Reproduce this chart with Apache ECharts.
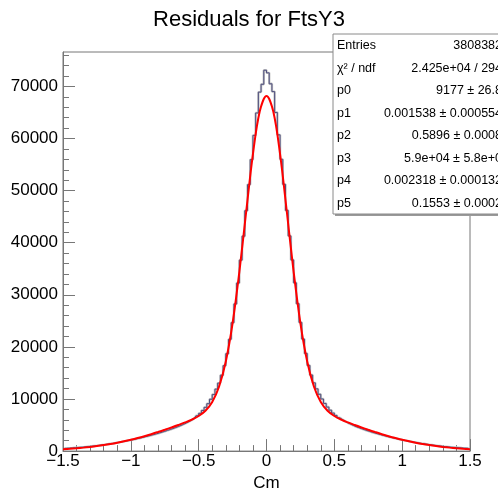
<!DOCTYPE html>
<html><head><meta charset="utf-8">
<script src="https://cdn.jsdelivr.net/npm/echarts@6/dist/echarts.min.js"></script>
<style>html,body{margin:0;padding:0;background:#fff}#c{width:498px;height:497px}</style>
</head><body><div id="c"></div>
<script>
const chartTitle = 'Residuals for FtsY3';
const xAxisName = 'Cm';
const xTickValues = [-1.5, -1, -0.5, 0, 0.5, 1, 1.5];
const yMajorTicks = [0, 10000, 20000, 30000, 40000, 50000, 60000, 70000];
const yMinorTicks = [2000,4000,6000,8000,12000,14000,16000,18000,22000,24000,26000,28000,32000,34000,36000,38000,42000,44000,46000,48000,52000,54000,56000,58000,62000,64000,66000,68000,72000,74000,76000];
const yTop = 76600;

// histogram: 150 bins of width 0.02 from -1.5 to 1.5
const histStart = -1.5, histBinWidth = 0.02;
const histLeft = [520,545,575,610,650,690,730,770,820,870,920,980,1040,1110,1180,1250,1330,1410,1490,1580,1670,1760,1860,1960,2060,2170,2280,2400,2520,2640,2770,2900,3040,3180,3320,3470,3630,3790,3960,4140,4320,4510,4710,4920,5150,5400,5680,5990,6340,6780,7250,7800,8400,9100,9950,10850,11900,13050,14550,16400,18700,21450,24650,28250,32250,36650,41250,46150,51150,55950,60600,64900,68900,70400,73100];
const histRight = [72600,70500,69000,65000,60700,56000,51200,46200,41300,36700,32300,28300,24700,21500,18750,16450,14600,13100,11950,10900,10000,9150,8450,7850,7300,6850,6400,6050,5720,5430,5170,4930,4700,4500,4310,4130,3950,3780,3620,3460,3310,3170,3030,2890,2760,2630,2510,2390,2270,2160,2050,1950,1850,1750,1660,1570,1480,1400,1320,1240,1170,1100,1030,970,910,860,810,760,720,680,640,600,570,540,510];

// fit curve read at steps of 0.05 from -1.5 to 1.5
const fitStart = -1.5, fitStep = 0.05;
const fitValues = [361,446,548,667,808,970,1157,1369,1610,1879,2178,2506,2862,3246,3655,4087,4538,5007,5502,6052,6736,7745,9429,12350,17196,24537,34412,45889,57000,65164,68177,65164,57000,45889,34412,24537,17196,12350,9429,7745,6736,6052,5502,5007,4538,4087,3655,3246,2862,2506,2178,1879,1610,1369,1157,970,808,667,548,446,361];

const statLabels = ['Entries', 'χ² / ndf', 'p0', 'p1', 'p2', 'p3', 'p4', 'p5'];
const statValues = ['3808382', '2.425e+04 / 294', '9177 ± 26.8', '0.001538 ± 0.000554', '0.5896 ± 0.0008', '5.9e+04 ± 5.8e+0', '0.002318 ± 0.000132', '0.1553 ± 0.0002'];

const histCounts = histLeft.concat(histRight);
const histData = histCounts.map((v, i) => [histStart + histBinWidth * (i + 0.5), v]);
const fitData = fitValues.map((v, i) => [fitStart + fitStep * i, v]);

const FONT = '"Liberation Sans", Arial, Helvetica, sans-serif';
const AX = '#777';

const graphic = [
  {type:'rect', shape:{x:335, y:36, width:180, height:180}, style:{fill:'#9a9a9a'}, z:100},
  {type:'rect', shape:{x:333, y:34, width:180, height:180}, style:{fill:'#fff', stroke:'#8a8a8a', lineWidth:1}, z:101}
];
statLabels.forEach((t, i) => {
  const y = 46 + i * 22.5;
  graphic.push({type:'text', z:102, style:{text:t, x:337, y:y, fill:'#000', font:'12.5px ' + FONT, textAlign:'left', textVerticalAlign:'middle', align:'left', verticalAlign:'middle'}});
  graphic.push({type:'text', z:102, style:{text:statValues[i], x:502, y:y, fill:'#000', font:'12.5px ' + FONT, textAlign:'right', textVerticalAlign:'middle', align:'right', verticalAlign:'middle'}});
});

const chart = echarts.init(document.getElementById('c'), null, {renderer:'canvas'});
chart.setOption({
  animation: false,
  backgroundColor: '#fff',
  title: {text: chartTitle, left: 'center', top: 4, textStyle: {fontFamily: FONT, fontSize: 22, fontWeight: 'normal', color: '#000'}},
  grid: {left: 63, right: 28, top: 52, bottom: 38, show: true, borderColor: AX, borderWidth: 1, backgroundColor: 'transparent'},
  xAxis: {
    type: 'value', min: -1.5, max: 1.5, interval: 0.5,
    name: xAxisName, nameLocation: 'middle', nameGap: 21,
    nameTextStyle: {fontFamily: FONT, fontSize: 17, color: '#000'},
    axisLine: {onZero: false, lineStyle: {color: AX}},
    axisTick: {inside: true, length: 12, lineStyle: {color: AX}},
    minorTick: {show: true, splitNumber: 5, length: 6, lineStyle: {color: AX}},
    axisLabel: {margin: 2, fontFamily: FONT, fontSize: 17, color: '#000', customValues: xTickValues,
      formatter: v => String(v).replace('-', '\u2212')},
    splitLine: {show: false}, minorSplitLine: {show: false}
  },
  yAxis: [
    {type: 'value', min: 0, max: yTop, position: 'left',
     axisLine: {show: true, onZero: false, lineStyle: {color: AX}},
     axisTick: {show: true, inside: true, length: 12, customValues: yMajorTicks, lineStyle: {color: AX}},
     axisLabel: {customValues: yMajorTicks, margin: 5, fontFamily: FONT, fontSize: 17, color: '#000',
       formatter: v => String(v)},
     splitLine: {show: false}},
    {type: 'value', min: 0, max: yTop, position: 'left', offset: 0,
     axisLine: {show: false, onZero: false},
     axisTick: {show: true, inside: true, length: 6, customValues: yMinorTicks, lineStyle: {color: AX}},
     axisLabel: {show: false}, splitLine: {show: false}}
  ],
  series: [
    {type: 'line', step: 'middle', data: histData, symbol: 'none', yAxisIndex: 0,
     lineStyle: {color: '#c4c4c4', width: 2.4}, z: 2, silent: true},
    {type: 'line', step: 'middle', data: histData, symbol: 'none', yAxisIndex: 0,
     lineStyle: {color: '#4d4d7e', width: 1}, z: 3, silent: true},
    {type: 'line', data: fitData, symbol: 'none', smooth: 0.35, yAxisIndex: 0,
     lineStyle: {color: '#ff0000', width: 2}, z: 4, silent: true}
  ],
  graphic: graphic
});
</script>
</body></html>
